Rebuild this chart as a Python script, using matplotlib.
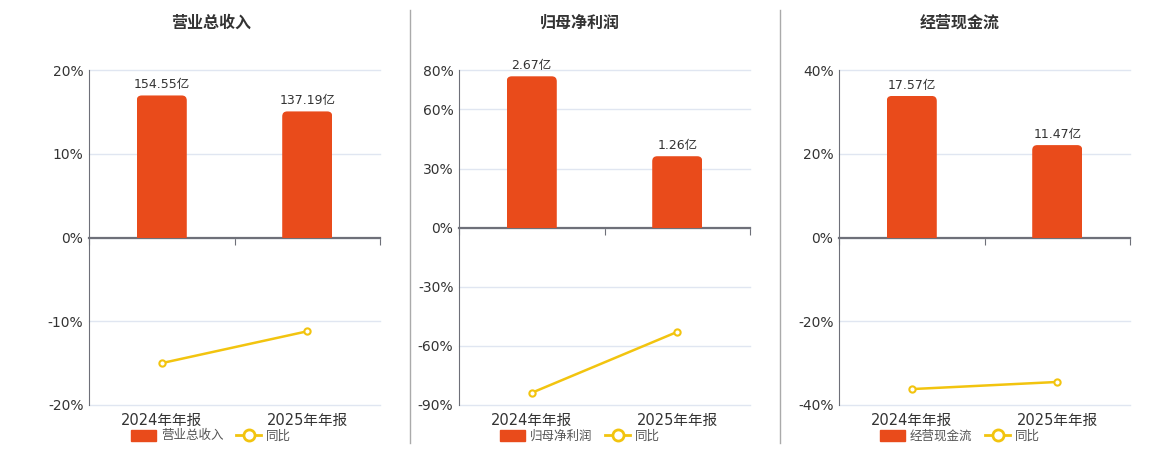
import matplotlib
matplotlib.use('Agg')
import matplotlib.pyplot as plt
from matplotlib.lines import Line2D
from matplotlib.patches import Patch, FancyBboxPatch

plt.rcParams['font.family'] = ['DejaVu Sans', 'Noto Sans CJK SC']

categories = ['2024年年报', '2025年年报']

titles = ['营业总收入', '归母净利润', '经营现金流']
bar_values = [[154.55, 137.19], [2.67, 1.26], [17.57, 11.47]]
bar_labels = [['154.55亿', '137.19亿'], ['2.67亿', '1.26亿'], ['17.57亿', '11.47亿']]
yoy = [[-15.0, -11.2], [-83.8, -52.9], [-36.2, -34.5]]

y_limits = [(-20, 20), (-90, 80), (-40, 40)]
y_ticks = [[-20, -10, 0, 10, 20], [-90, -60, -30, 0, 30, 60, 80], [-40, -20, 0, 20, 40]]
# hidden bar axis: value per percent unit
bar_scale = [154.55 / 16.96, 2.67 / 76.8, 17.57 / 33.8]

BAR = '#e94b1b'
LINE = '#f2c40f'
AXIS = '#6e7079'
GRID = '#e0e6f1'
TEXT = '#333333'

W, H = 1160, 450
fig = plt.figure(figsize=(W / 100, H / 100), dpi=100)

ax_left = [89, 459, 839]
ax_width = 291
ax_top, ax_bottom = 70, 405
title_x = [211, 580, 960]
radius_px = 5

for i in range(3):
    ax = fig.add_axes([ax_left[i] / W, 1 - ax_bottom / H, ax_width / W, (ax_bottom - ax_top) / H])
    x = list(range(len(categories)))

    ax.set_xlim(-0.5, 1.5)
    ax.set_ylim(*y_limits[i])
    ax.set_yticks(y_ticks[i])
    ax.set_yticklabels(['%d%%' % t for t in y_ticks[i]], fontsize=10, color=TEXT)
    ax.tick_params(axis='y', length=0, pad=4)
    ax.grid(axis='y', color=GRID, linewidth=1)
    for gl in ax.get_ygridlines():
        gl.set_clip_on(False)
    ax.set_axisbelow(True)

    for s in ['top', 'right']:
        ax.spines[s].set_visible(False)
    ax.spines['left'].set_color(AXIS)
    ax.spines['bottom'].set_position(('data', 0))
    ax.spines['bottom'].set_color(AXIS)
    ax.spines['bottom'].set_linewidth(1.6)
    ax.set_xticks([-0.5, 0.5, 1.5])
    ax.set_xticklabels([])
    ax.tick_params(axis='x', length=5, color=AXIS, direction='out')

    sec = ax.secondary_xaxis(0)
    sec.set_xticks(x)
    sec.set_xticklabels(categories, fontsize=10.5, color=TEXT)
    sec.tick_params(length=0, pad=6)
    sec.spines['bottom'].set_visible(False)

    ax.plot(x, yoy[i], color=LINE, linewidth=1.8, marker='o', markersize=4.5,
            markerfacecolor='white', markeredgecolor=LINE, markeredgewidth=1.5, zorder=5)

    ax2 = ax.twinx()
    lo, hi = y_limits[i]
    ax2.set_ylim(lo * bar_scale[i], hi * bar_scale[i])
    bars = ax2.bar(x, bar_values[i], width=0.344, color=BAR, zorder=3)
    ax2.bar_label(bars, labels=bar_labels[i], padding=3, fontsize=9, color=TEXT)
    ax2.axis('off')

    # rounded tops: replace each bar by a rounded box clipped to the bar
    x_per_px = 2.0 / ax_width
    y_per_px = (hi - lo) * bar_scale[i] / (ax_bottom - ax_top)
    rx = radius_px * x_per_px
    ry = radius_px * y_per_px
    for rect in bars:
        rect.set_visible(False)
        box = FancyBboxPatch((rect.get_x(), rect.get_y() - ry), rect.get_width(), rect.get_height() + ry,
                             boxstyle='round,pad=0,rounding_size=%f' % rx,
                             mutation_aspect=y_per_px / x_per_px,
                             facecolor=BAR, edgecolor='none', zorder=3)
        ax2.add_patch(box)
        box.set_clip_path(rect.get_path(), rect.get_transform())

    fig.text(title_x[i] / W, 1 - 23 / H, titles[i], ha='center', va='center',
             fontsize=11.5, fontweight='bold', color=TEXT)

    handles = [Patch(facecolor=BAR, edgecolor=BAR),
               Line2D([0], [0], color=LINE, linewidth=2, marker='o', markersize=8,
                      markerfacecolor='white', markeredgecolor=LINE, markeredgewidth=2)]
    fig.legend(handles, [titles[i], '同比'], loc='center', ncol=2, frameon=False,
               bbox_to_anchor=(title_x[i] / W, 1 - 436 / H), fontsize=9,
               handlelength=2.0, handleheight=1.0, handletextpad=0.4, columnspacing=1.0,
               labelcolor='#555555')

for xd in [410, 780]:
    fig.add_artist(Line2D([xd / W, xd / W], [1 - 443 / H, 1 - 10 / H], color='#aaaaaa', linewidth=1))

fig.savefig('out.png', dpi=100, facecolor='white')
